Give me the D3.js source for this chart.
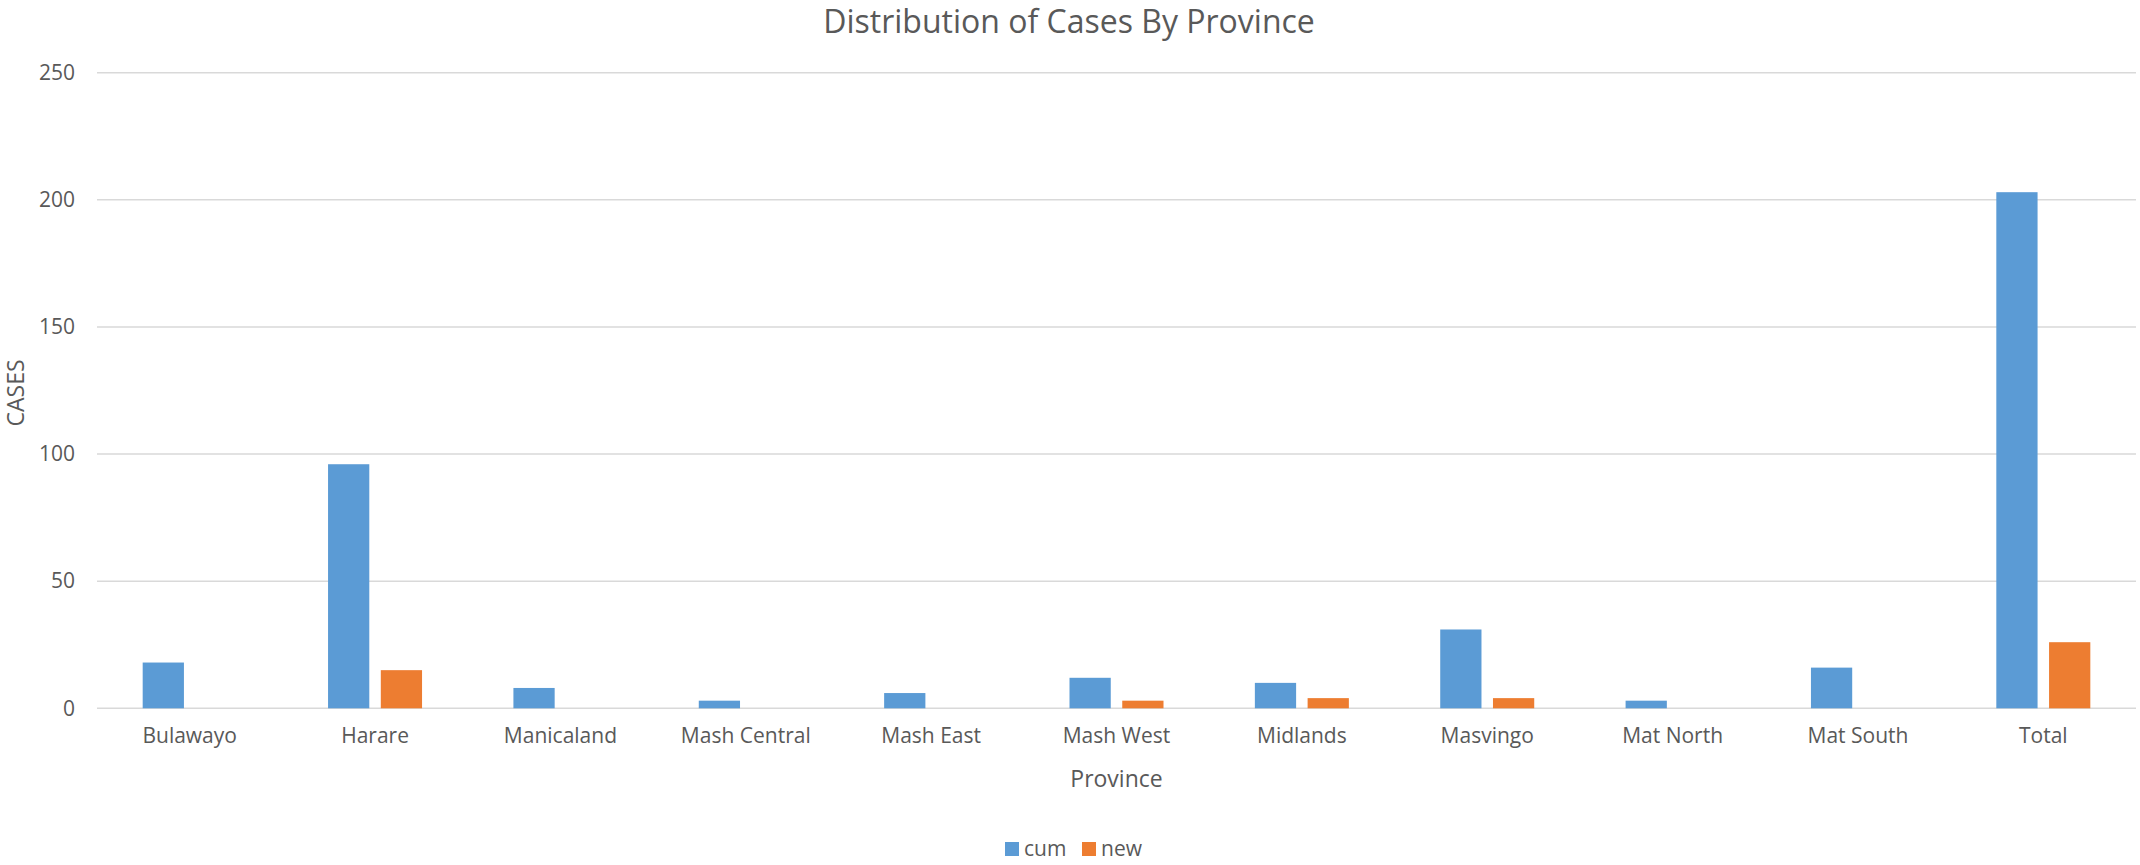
<!DOCTYPE html>
<html>
<head>
<meta charset="utf-8">
<script src="https://cdn.jsdelivr.net/npm/d3@7"></script>
<style>
  body { margin: 0; background: #fff; }
  text { font-family: "Open Sans", "Noto Sans", sans-serif; fill: #595959; }
</style>
</head>
<body>
  <script>
    const provinces = ["Bulawayo", "Harare", "Manicaland", "Mash Central", "Mash East",
                       "Mash West", "Midlands", "Masvingo", "Mat North", "Mat South", "Total"];
    const seriesNames = ["cum", "new"];
    const cumCases = [18, 96, 8, 3, 6, 12, 10, 31, 3, 16, 203];
    const newCases = [0, 15, 0, 0, 0, 3, 4, 4, 0, 0, 26];
    const yTicks = [0, 50, 100, 150, 200, 250];
    const colors = ["#5B9BD5", "#ED7D31"];

    const w = 2140;
    const h = 865;
    const plotLeft = 97, plotRight = 2136, plotTop = 72.7, plotBottom = 708.3;

    const rows = provinces.map((p, i) => ({ province: p, values: [cumCases[i], newCases[i]] }));

    const xScale = d3.scaleBand()
                     .domain(provinces)
                     .range([plotLeft, plotRight]);

    const xInner = d3.scaleBand()
                     .domain(seriesNames)
                     .range([0, xScale.bandwidth()])
                     .paddingInner(0.218)
                     .paddingOuter(0.866);

    const yScale = d3.scaleLinear()
                     .domain([0, 250])
                     .range([plotBottom, plotTop]);

    const svg = d3.select("body")
                  .append("svg")
                  .attr("width", w)
                  .attr("height", h);

    // gridlines
    svg.append("g")
       .selectAll("line")
       .data(yTicks)
       .enter()
       .append("line")
       .attr("x1", plotLeft)
       .attr("x2", plotRight)
       .attr("y1", (d) => yScale(d))
       .attr("y2", (d) => yScale(d))
       .attr("stroke", "#D9D9D9")
       .attr("stroke-width", 1.5);

    // y axis labels
    const yAxis = d3.axisLeft(yScale).tickValues(yTicks).tickSize(0).tickPadding(22);
    svg.append("g")
       .attr("transform", `translate(${plotLeft},0)`)
       .call(yAxis)
       .call((g) => g.select(".domain").remove())
       .selectAll("text")
       .style("font-family", "'Open Sans', 'Noto Sans', sans-serif")
       .style("font-size", "21px")
       .attr("fill", "#595959");

    // bars
    const groups = svg.append("g")
       .selectAll("g")
       .data(rows)
       .enter()
       .append("g")
       .attr("transform", (d) => `translate(${xScale(d.province)},0)`);

    groups.selectAll("rect")
       .data((d) => d.values.map((v, i) => ({ series: seriesNames[i], value: v, color: colors[i] })))
       .enter()
       .append("rect")
       .attr("x", (d) => xInner(d.series))
       .attr("width", xInner.bandwidth())
       .attr("y", (d) => yScale(d.value))
       .attr("height", (d) => plotBottom - yScale(d.value))
       .attr("fill", (d) => d.color);

    // x axis labels
    const xAxis = d3.axisBottom(xScale).tickSize(0).tickPadding(20);
    svg.append("g")
       .attr("transform", `translate(0,${plotBottom})`)
       .call(xAxis)
       .call((g) => g.select(".domain").remove())
       .selectAll("text")
       .style("font-family", "'Open Sans', 'Noto Sans', sans-serif")
       .style("font-size", "21px")
       .attr("fill", "#595959");

    // title
    svg.append("text")
       .attr("x", 1069)
       .attr("y", 22)
       .attr("dy", "0.35em")
       .attr("text-anchor", "middle")
       .style("font-size", "32px")
       .text("Distribution of Cases By Province");

    // axis titles
    svg.append("text")
       .attr("x", (plotLeft + plotRight) / 2)
       .attr("y", 779)
       .attr("dy", "0.35em")
       .attr("text-anchor", "middle")
       .style("font-size", "23px")
       .text("Province");

    svg.append("text")
       .attr("transform", "translate(16,393) rotate(-90)")
       .attr("dy", "0.35em")
       .attr("text-anchor", "middle")
       .style("font-size", "23px")
       .text("CASES");

    // legend
    const legend = svg.append("g")
       .selectAll("g")
       .data(seriesNames)
       .enter()
       .append("g")
       .attr("transform", (d, i) => `translate(${1005 + i * 77},842)`);

    legend.append("rect")
       .attr("width", 14)
       .attr("height", 14)
       .attr("fill", (d, i) => colors[i]);

    legend.append("text")
       .attr("x", 19)
       .attr("y", 7)
       .attr("dy", "0.35em")
       .style("font-size", "21px")
       .text((d) => d);
  </script>
</body>
</html>
